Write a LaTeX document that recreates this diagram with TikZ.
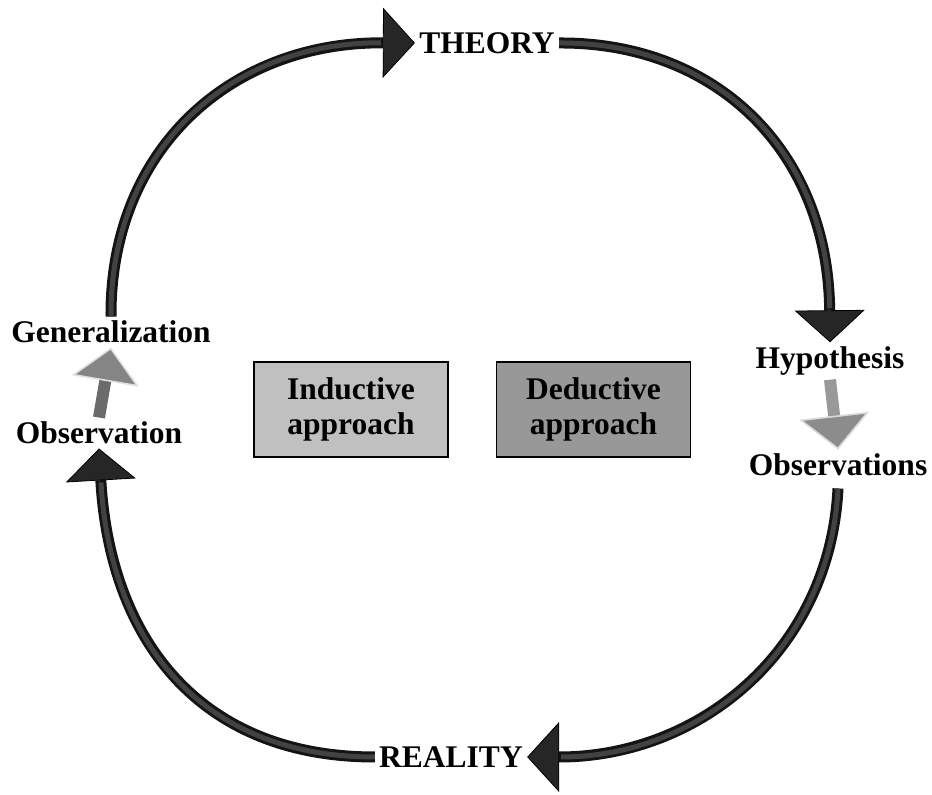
\documentclass[tikz,border=0pt]{standalone}
\usepackage{fontspec}
\setmainfont{Liberation Serif}
\usepackage{tikz}
\usetikzlibrary{arrows.meta,positioning}
\definecolor{indgray}{RGB}{192,192,192}
\definecolor{dedgray}{RGB}{152,152,152}
\tikzset{
  lbl/.style={font=\fontsize{15.75}{17.5}\selectfont\bfseries, inner sep=2pt},
  tube/.style={line width=5.5pt, draw=black!92,
    -{Triangle[length=16pt,width=35pt,line width=0.4pt,fill=black!85,color=black]},
    postaction={draw=black!74, line width=2.5pt, shorten >=17pt, -}},
  upar/.style={line width=6pt, draw=black!58,
    -{Triangle[length=17pt,width=34pt,line width=0.8pt,fill=black!48,color=black!12]}},
  downar/.style={line width=6pt, draw=black!40,
    -{Triangle[length=17pt,width=35pt,line width=0.8pt,fill=black!45,color=black!15]}},
  appbox/.style={lbl, draw, line width=0.75pt, align=center,
    minimum width=97pt, minimum height=47.5pt}
}
\begin{document}
\begin{tikzpicture}[x=0.5pt,y=-0.5pt]
  \useasboundingbox (0,0) rectangle (932,795);
  \node[lbl] (theory) at (487,43) {THEORY};
  \node[lbl] (reality) at (451,757) {REALITY};
  \node[lbl] (hyp) at (830,361) {Hypothesis};
  \node[lbl] (obsR) at (838,465) {Observations};
  \node[lbl] (gen) at (111,332) {Generalization};
  \node[lbl] (obsL) at (99,433) {Observation};
  \node[appbox, fill=indgray] (ind) at (351,409.5) {Inductive\\approach};
  \node[appbox, fill=dedgray] (ded) [right = 23.5pt of ind] {Deductive\\approach};

  \draw[tube] (gen.north) .. controls (110,150) and (230,42) .. (theory.west);
  \draw[tube] (theory.east) .. controls (715,42) and (828,150) .. (hyp.north);
  \draw[tube] ([yshift=-4pt]obsR.south) .. controls (830,650) and (700,757) .. (reality.east);
  \draw[tube] (reality.west) .. controls (200,757) and (110,640) .. (obsL.south);

  \draw[downar] (hyp.south) -- (obsR.north);
  \draw[upar] (obsL.north) -- (gen.south);
\end{tikzpicture}
\end{document}
